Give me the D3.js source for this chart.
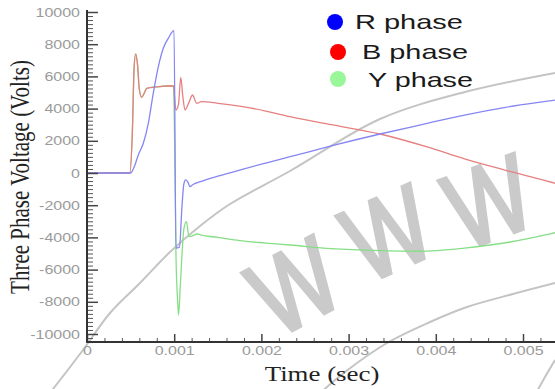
<!DOCTYPE html>
<html><head><meta charset="utf-8">
<script src="https://cdn.jsdelivr.net/npm/d3@7"></script>
<style>html,body{margin:0;padding:0;background:#fff;overflow:hidden}</style>
</head><body><svg id="chart" width="555" height="389"></svg>
<script>
// ---- data (time in seconds, voltage in volts) ----
const timeR = [0, 0.0005, 0.00055, 0.000588, 0.000646, 0.000703, 0.00076, 0.000818, 0.000875, 0.000932, 0.000998, 0.00102, 0.00106, 0.00109, 0.00111, 0.00113, 0.00116, 0.00118, 0.00122, 0.0013, 0.0015, 0.00175, 0.00205, 0.00233, 0.0028, 0.00336, 0.0039, 0.00433, 0.0048, 0.00537, 0.0055];
const voltR = [0, 0, 500, 1118, 1845, 3087, 4950, 6602, 7745, 8366, 8838, -4658, -4600, -2000, -700, -430, -600, -850, -700, -540, -200, 186, 620, 1012, 1680, 2422, 3080, 3600, 4080, 4534, 4640];

const timeB = [0, 0.00049, 0.00052, 0.00054, 0.000558, 0.00058, 0.0006, 0.000627, 0.00066, 0.000685, 0.0008, 0.00099, 0.00102, 0.00105, 0.001075, 0.0011, 0.001124, 0.00117, 0.00121, 0.001258, 0.001315, 0.0015, 0.00175, 0.00205, 0.00233, 0.0028, 0.00336, 0.0039, 0.00433, 0.0048, 0.00537, 0.0055];
const voltB = [0, 0, 2500, 6500, 7400, 6700, 5200, 4700, 5000, 5260, 5350, 5420, 3913, 4300, 5944, 4700, 3913, 4400, 4845, 4330, 4430, 4330, 4160, 3850, 3497, 3000, 2422, 1620, 880, 170, -640, -850];

const timeY = [0, 0.00049, 0.00052, 0.00054, 0.000558, 0.00058, 0.0006, 0.000627, 0.00066, 0.000685, 0.0008, 0.00099, 0.00101, 0.00102, 0.00104, 0.00105, 0.00107, 0.00109, 0.00111, 0.00114, 0.00117, 0.00127, 0.0013, 0.0015, 0.00175, 0.00205, 0.00233, 0.0028, 0.00336, 0.0038, 0.00433, 0.00485, 0.00537, 0.0055];
const voltY = [0, 0, 2500, 6500, 7400, 6700, 5200, 4700, 5000, 5260, 5350, 5420, 0, -5000, -8000, -8820, -7000, -5000, -3500, -3025, -3956, -3789, -3850, -4000, -4200, -4350, -4472, -4700, -4826, -4860, -4660, -4286, -3708, -3550];

const seriesNames = ["R phase", "B phase", "Y phase"];
const xTickValues = [0, 0.001, 0.002, 0.003, 0.004, 0.005];
const xTickLabels = ["0", "0.001", "0.002", "0.003", "0.004", "0.005"];
const yTickValues = [-10000, -8000, -6000, -4000, -2000, 0, 2000, 4000, 6000, 8000, 10000];
const yTickLabels = ["-10000", "-8000", "-6000", "-4000", "-2000", "0", "2000", "4000", "6000", "8000", "10000"];
const xTitle = "Time (sec)";
const yTitle = "Three Phase Voltage (Volts)";
const watermarkText = "WWW";

// ---- chart ----
const W = 555, H = 389;
const svg = d3.select("#chart");
const x = d3.scaleLinear().domain([0, 0.005]).range([87, 523]);
const y = d3.scaleLinear().domain([-10000, 10000]).range([334, 12]);
const axisY0 = 342, plotTop = 10;

const lineColor = {"R phase": "#8585f5", "B phase": "#e68080", "Y phase": "#86de86"};
const dotColor = {"R phase": "#0000ff", "B phase": "#ff0000", "Y phase": "#99f799"};

// watermark (decorative)
const wm = svg.append("g").attr("class", "watermark");
const arcLine = d3.line().curve(d3.curveCatmullRom);
const arcs = [
  [[40,405],[53,389],[83,350],[110,313],[140,283],[170,252],[200,226],[230,204],[290,171],[380,119],[465,92],[555,73]],
  [[318,395],[345,372],[387,343],[430,322],[467,307],[513,294],[555,283]],
  [[535,395],[545,377],[555,360]]
];
wm.selectAll("path").data(arcs).join("path")
  .attr("d", arcLine).attr("fill", "none").attr("stroke", "#c4c4c4").attr("stroke-width", 2);
const wmPos = [[295,287,-28],[388,234,-24],[489,202,-20]];
wm.selectAll("text").data(wmPos).join("text")
  .attr("transform", d => `translate(${d[0]},${d[1]}) rotate(${d[2]}) scale(0.9,1.12)`)
  .attr("text-anchor", "middle").attr("dominant-baseline", "central")
  .attr("font-family", "Liberation Sans, Arial, sans-serif").attr("font-size", 96)
  .attr("fill", "#cacaca").attr("stroke", "#cacaca").attr("stroke-width", 3.5)
  .text((d, i) => watermarkText[i]);

// clip
svg.append("clipPath").attr("id", "clip").append("rect")
  .attr("x", 88).attr("y", 0).attr("width", W - 88).attr("height", axisY0);

const series = [
  {name: "Y phase", t: timeY, v: voltY},
  {name: "B phase", t: timeB, v: voltB},
  {name: "R phase", t: timeR, v: voltR}
];
const line = d3.line().x(d => x(d[0])).y(d => y(d[1])).curve(d3.curveMonotoneX);
svg.append("g").attr("clip-path", "url(#clip)")
  .selectAll("path").data(series).join("path")
  .attr("d", s => line(s.t.map((t, i) => [t, s.v[i]])))
  .attr("fill", "none").attr("stroke", s => lineColor[s.name]).attr("stroke-width", 1.3);

// axes
const stretch = sel => sel.each(function() {
  const len = this.getComputedTextLength();
  d3.select(this).attr("textLength", len * 1.28).attr("lengthAdjust", "spacingAndGlyphs");
});

const yMinor = d3.range(-10500, 10001, 250).filter(v => v % 2000 !== 0);
svg.append("g").attr("transform", "translate(87,0)")
  .call(d3.axisLeft(y).tickValues(yMinor).tickSize(-6).tickFormat(""))
  .call(g => g.select(".domain").remove())
  .call(g => g.selectAll("line").attr("stroke", "#555"));
const gy = svg.append("g").attr("transform", "translate(87,0)")
  .call(d3.axisLeft(y).tickValues(yTickValues).tickSize(-11).tickPadding(7)
    .tickFormat((d, i) => yTickLabels[i]))
  .call(g => g.select(".domain").remove())
  .call(g => g.selectAll("line").attr("stroke", "#444").attr("stroke-width", 1.5));
gy.selectAll("text").attr("font-family", "Liberation Sans, Arial, sans-serif")
  .attr("font-size", 12.5).attr("fill", "#9a9a9a").call(stretch);

const xMinor = d3.range(0, 0.00541, 0.0002).filter(v => Math.abs(v / 0.001 - Math.round(v / 0.001)) > 1e-6);
svg.append("g").attr("transform", `translate(0,${axisY0})`)
  .call(d3.axisBottom(x).tickValues(xMinor).tickSize(-4).tickFormat(""))
  .call(g => g.select(".domain").remove())
  .call(g => g.selectAll("line").attr("stroke", "#555"));
const gx = svg.append("g").attr("transform", `translate(0,${axisY0})`)
  .call(d3.axisBottom(x).tickValues(xTickValues).tickSize(-8).tickPadding(4)
    .tickFormat((d, i) => xTickLabels[i]))
  .call(g => g.select(".domain").remove())
  .call(g => g.selectAll("line").attr("stroke", "#444").attr("stroke-width", 1.5));
gx.selectAll("text").attr("font-family", "Liberation Sans, Arial, sans-serif")
  .attr("font-size", 12.5).attr("fill", "#9a9a9a").call(stretch);

svg.append("line").attr("x1", 87).attr("x2", 87).attr("y1", plotTop).attr("y2", axisY0 + 1)
  .attr("stroke", "#333").attr("stroke-width", 2);
svg.append("line").attr("x1", 86).attr("x2", W).attr("y1", axisY0).attr("y2", axisY0)
  .attr("stroke", "#333").attr("stroke-width", 2);

// titles
svg.append("text").attr("transform", "translate(322,381) scale(1.28,1)")
  .attr("text-anchor", "middle").attr("font-family", "Liberation Serif, Times New Roman, serif")
  .attr("font-size", 21).attr("fill", "#222").text(xTitle);
svg.append("text").attr("transform", "translate(29,177) scale(1.28,1) rotate(-90)")
  .attr("text-anchor", "middle").attr("font-family", "Liberation Serif, Times New Roman, serif")
  .attr("font-size", 21).attr("fill", "#222").text(yTitle);

// legend
const legendPos = [[335, 22, 355, 29, 108], [338, 52, 362, 59, 106], [338, 79, 368, 87, 105]];
const lg = svg.append("g");
lg.selectAll("circle").data(seriesNames).join("circle")
  .attr("cx", (d, i) => legendPos[i][0]).attr("cy", (d, i) => legendPos[i][1]).attr("r", 8)
  .attr("fill", d => dotColor[d]);
lg.selectAll("text").data(seriesNames).join("text")
  .attr("x", (d, i) => legendPos[i][2]).attr("y", (d, i) => legendPos[i][3])
  .attr("textLength", (d, i) => legendPos[i][4]).attr("lengthAdjust", "spacingAndGlyphs")
  .attr("font-family", "Liberation Sans, Arial, sans-serif").attr("font-size", 21)
  .attr("fill", "#1a1a1a").text(d => d);
</script></body></html>
